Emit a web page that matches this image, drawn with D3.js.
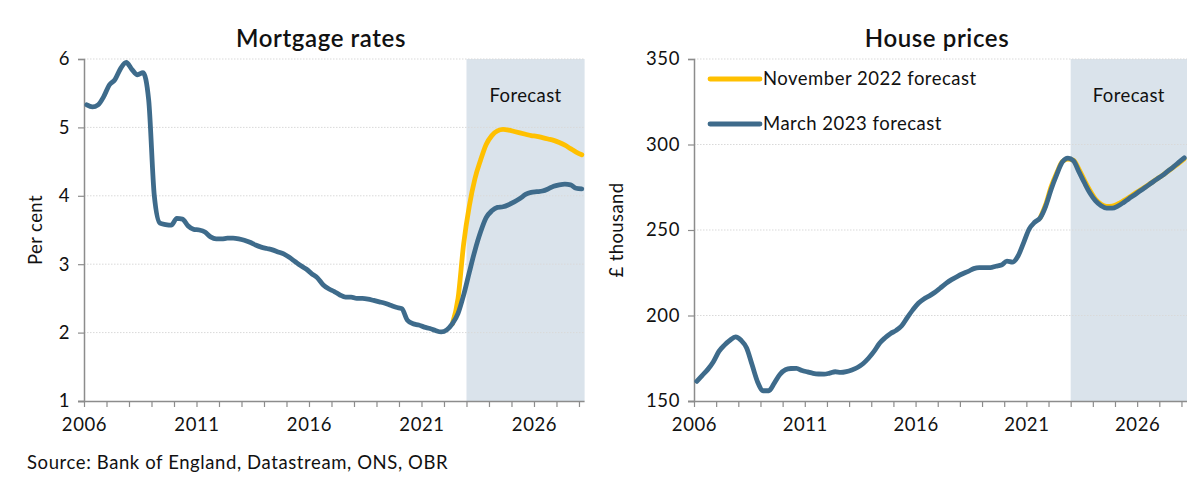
<!DOCTYPE html>
<html>
<head>
<meta charset="utf-8">
<script src="https://cdn.jsdelivr.net/npm/d3@7"></script>
<style>
  body { margin: 0; background: #fff; }
  svg { font-family: Lato, "Open Sans", sans-serif; }
</style>
</head>
<body>
<script>
// quarterly series, first point 2006 Q1, plotted mid-quarter
const firstYear = 2006.125;

const mortgageMar = [
  5.33, 5.30, 5.33, 5.45, 5.62, 5.70, 5.86, 5.95, 5.85, 5.77, 5.80, 5.40,
  4.00, 3.60, 3.58, 3.57, 3.67, 3.66, 3.56, 3.51, 3.50, 3.47, 3.40, 3.37,
  3.37, 3.38, 3.38, 3.37, 3.35, 3.32, 3.28, 3.25, 3.23, 3.21, 3.18, 3.15,
  3.10, 3.04, 2.98, 2.93, 2.86, 2.80, 2.70, 2.64, 2.60, 2.55, 2.52, 2.52,
  2.50, 2.50, 2.49, 2.47, 2.45, 2.43, 2.40, 2.37, 2.35, 2.18, 2.13, 2.11,
  2.08, 2.06, 2.03, 2.01, 2.04, 2.13, 2.28, 2.55, 2.88, 3.20, 3.47, 3.68,
  3.78, 3.83, 3.84, 3.87, 3.91, 3.96, 4.02, 4.05, 4.06, 4.07, 4.10, 4.14,
  4.16, 4.17, 4.16, 4.11, 4.10
];
// November forecast, from 2022 Q2 (index 65)
const mortgageNovStart = 65;
const mortgageNov = [
  2.13, 2.50, 3.30, 3.85, 4.25, 4.52, 4.75, 4.88, 4.95, 4.97, 4.96, 4.94,
  4.92, 4.90, 4.88, 4.87, 4.85, 4.83, 4.81, 4.78, 4.74, 4.69, 4.64, 4.60
];

const houseMar = [
  161.5, 165.0, 168.5, 173.0, 179.0, 182.7, 185.5, 187.5, 185.5, 181.0, 171.0, 161.0,
  156.0, 156.0, 160.5, 165.5, 168.3, 169.0, 169.1, 167.8, 167.0, 166.2, 165.8, 165.7,
  166.3, 167.1, 166.7, 167.2, 168.2, 169.6, 171.8, 175.0, 179.0, 183.8, 187.0, 189.5,
  191.3, 194.0, 198.8, 203.3, 207.2, 209.7, 211.5, 213.6, 216.2, 218.8, 221.0, 222.8,
  224.4, 225.8, 227.4, 228.0, 228.0, 228.0, 228.8, 229.5, 231.8, 231.2, 234.8, 242.5,
  250.5, 254.5, 257.1, 264.0, 274.0, 282.5, 289.8, 292.0, 290.5, 284.0, 277.5, 271.5,
  267.0, 264.2, 262.8, 262.8, 264.0, 266.0, 268.3, 270.5, 272.8, 275.0, 277.3, 279.6,
  281.8, 284.3, 286.8, 289.5, 292.2
];
// November forecast, from 2021 Q3 (index 62)
const houseNovStart = 62;
const houseNov = [
  257.1, 265.0, 275.5, 283.5, 290.0, 291.5, 290.8, 285.5, 279.0, 273.0, 268.0, 265.0,
  263.8, 264.0, 265.2, 267.0, 269.0, 271.2, 273.2, 275.3, 277.5, 279.7, 281.8, 284.2,
  286.6, 289.0, 291.6
];

const yearTicks = d3.range(2006, 2029);
const yearLabels = [2006, 2011, 2016, 2021, 2026];
const forecastFrom = 2023;
const seriesNames = ["November 2022 forecast", "March 2023 forecast"];
const colours = ["#FFC000", "#3E6B8B"];

const W = 1200, H = 493;
const svg = d3.select("body").append("svg").attr("width", W).attr("height", H);

function toPoints(values, start) {
  return values.map((v, i) => [firstYear + (start + i) * 0.25, v]);
}

function panel(opt) {
  const x = d3.scaleLinear().domain([2006, 2028.25]).range([opt.left, opt.right]);
  const y = d3.scaleLinear().domain(opt.yDomain).range([401, 59]);
  const g = svg.append("g");

  // forecast shading
  g.append("rect")
    .attr("x", x(forecastFrom)).attr("y", y(opt.yDomain[1]))
    .attr("width", x(2028.25) - x(forecastFrom))
    .attr("height", y(opt.yDomain[0]) - y(opt.yDomain[1]))
    .attr("fill", "#DAE3EB");

  g.append("text")
    .attr("x", (x(forecastFrom) + x(2028.25)) / 2).attr("y", 102)
    .attr("text-anchor", "middle").attr("font-size", 18.5)
    .attr("letter-spacing", 0.4).attr("fill", "#111")
    .text("Forecast");

  // gridlines
  g.append("g").selectAll("line")
    .data(opt.yTicks.slice(1))
    .join("line")
    .attr("x1", x(2006)).attr("x2", x(2028.25))
    .attr("y1", d => y(d)).attr("y2", d => y(d))
    .attr("stroke", "#d9d9d9").attr("stroke-width", 1)
    .attr("stroke-dasharray", "1.5,1.5");

  // axes
  const yAxis = g.append("g")
    .attr("transform", `translate(${x(2006)},0)`)
    .call(d3.axisLeft(y).tickValues(opt.yTicks).tickFormat(d3.format("d"))
      .tickSize(6).tickPadding(8));
  const xAxis = g.append("g")
    .attr("transform", `translate(0,${y(opt.yDomain[0])})`)
    .call(d3.axisBottom(x).tickValues(yearTicks).tickSize(6).tickPadding(11)
      .tickFormat(d => yearLabels.includes(d) ? d : ""));
  [yAxis, xAxis].forEach(a => {
    a.select(".domain").attr("stroke", "#8c8c8c").attr("stroke-width", 1.5);
    a.selectAll(".tick line").attr("stroke", "#8c8c8c").attr("stroke-width", 1.2);
    a.selectAll(".tick text").attr("font-size", 18.5).attr("fill", "#111")
      .attr("letter-spacing", 0.6).attr("font-family", "Lato, sans-serif");
  });
  xAxis.select(".domain").attr("d", `M${x(2006) - 6},0.5H${x(2028.25)}`);

  // axis title
  g.append("text")
    .attr("transform", `translate(${opt.titleX},230) rotate(-90)`)
    .attr("text-anchor", "middle").attr("dy", "0.35em")
    .attr("font-size", 18.5).attr("letter-spacing", 0.4).attr("fill", "#111")
    .text(opt.yTitle);

  // chart title
  g.append("text")
    .attr("x", opt.headX).attr("y", 47)
    .attr("text-anchor", "middle").attr("font-size", 24)
    .attr("letter-spacing", 0.6)
    .attr("font-weight", 600).attr("fill", "#111")
    .text(opt.title);

  const line = d3.line().x(d => x(d[0])).y(d => y(d[1])).curve(d3.curveMonotoneX);
  opt.series.forEach((s, i) => {
    g.append("path")
      .datum(s)
      .attr("d", line)
      .attr("fill", "none")
      .attr("stroke", colours[i])
      .attr("stroke-width", 4.8)
      .attr("stroke-linejoin", "round")
      .attr("stroke-linecap", "round");
  });
}

panel({
  left: 84, right: 584.6,
  yDomain: [1, 6], yTicks: [1, 2, 3, 4, 5, 6],
  yTitle: "Per cent", titleX: 36,
  title: "Mortgage rates", headX: 321,
  series: [toPoints(mortgageNov, mortgageNovStart), toPoints(mortgageMar, 0)]
});

panel({
  left: 694, right: 1187,
  yDomain: [150, 350], yTicks: [150, 200, 250, 300, 350],
  yTitle: "£ thousand", titleX: 617,
  title: "House prices", headX: 937,
  series: [toPoints(houseNov, houseNovStart), toPoints(houseMar, 0)]
});

// legend
const legend = svg.append("g").selectAll("g")
  .data(seriesNames)
  .join("g")
  .attr("transform", (d, i) => `translate(710,${79 + i * 45})`);
legend.append("line")
  .attr("x1", 0).attr("x2", 50)
  .attr("stroke", (d, i) => colours[i]).attr("stroke-width", 4.8)
  .attr("stroke-linecap", "round");
legend.append("text")
  .attr("x", 53).attr("dy", "0.35em")
  .attr("font-size", 18.5).attr("letter-spacing", 0.5).attr("fill", "#111")
  .text(d => d);

svg.append("text")
  .attr("x", 27).attr("y", 469)
  .attr("font-size", 18.5).attr("letter-spacing", 0.6).attr("fill", "#111")
  .text("Source: Bank of England, Datastream, ONS, OBR");
</script>
</body>
</html>
